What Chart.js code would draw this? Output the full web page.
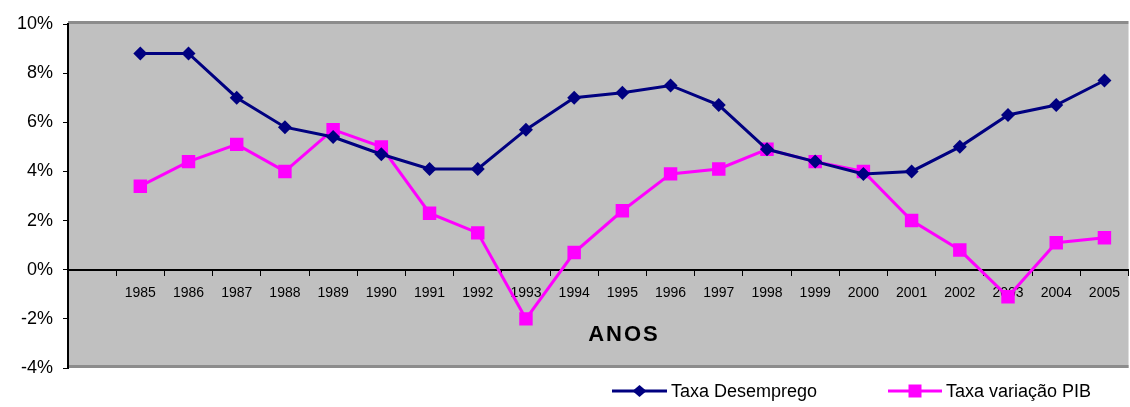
<!DOCTYPE html>
<html>
<head>
<meta charset="utf-8">
<script src="https://cdn.jsdelivr.net/npm/chart.js@4"></script>
<style>
  html, body { margin: 0; padding: 0; background: #fff; }
  #wrap { width: 1130px; height: 407px; position: relative; }
</style>
</head>
<body>
<div id="wrap"><canvas id="c" width="1130" height="407"></canvas></div>
<script>
const years = ['1985','1986','1987','1988','1989','1990','1991','1992','1993','1994','1995',
               '1996','1997','1998','1999','2000','2001','2002','2003','2004','2005'];
const taxaDesemprego = [8.8, 8.8, 7.0, 5.8, 5.4, 4.7, 4.1, 4.1, 5.7, 7.0, 7.2,
                        7.5, 6.7, 4.9, 4.4, 3.9, 4.0, 5.0, 6.3, 6.7, 7.7];
const taxaVariacaoPIB = [3.4, 4.4, 5.1, 4.0, 5.7, 5.0, 2.3, 1.5, -2.0, 0.7, 2.4,
                         3.9, 4.1, 4.9, 4.4, 4.0, 2.0, 0.8, -1.1, 1.1, 1.3];
const yTicks = [-4, -2, 0, 2, 4, 6, 8, 10];
const seriesNames = ['Taxa Desemprego', 'Taxa variação PIB'];
const xTitle = 'ANOS';

const NAVY = '#000080', MAGENTA = '#FF00FF';
const FONT = '"Liberation Sans", Arial, sans-serif';

// leading empty category (the reference leaves one empty slot before 1985)
const labels = [''].concat(years);

const bgPlugin = {
  id: 'bg',
  beforeDraw(chart) {
    const {ctx, chartArea: a} = chart;
    ctx.save();
    ctx.fillStyle = '#C0C0C0';
    ctx.fillRect(a.left, a.top, a.right - a.left, a.bottom - a.top);
    ctx.fillStyle = '#8C8C8C';
    ctx.fillRect(a.left, a.top - 3, a.right - a.left, 3);
    ctx.fillRect(a.left, a.bottom - 3, a.right - a.left, 3);
    ctx.restore();
  }
};

const extrasPlugin = {
  id: 'extras',
  afterDraw(chart) {
    const {ctx} = chart;
    const ys = chart.scales.y;
    ctx.save();
    // axis title
    ctx.font = 'bold 22px ' + FONT;
    ctx.fillStyle = '#000';
    ctx.textAlign = 'center';
    ctx.textBaseline = 'middle';
    if ('letterSpacing' in ctx) ctx.letterSpacing = '2px';
    ctx.fillText(xTitle, 624, ys.getPixelForValue(-2.66));
    if ('letterSpacing' in ctx) ctx.letterSpacing = '0px';
    // legend
    const ly = 391;
    const items = [
      {x0: 612, x1: 667, color: NAVY, shape: 'diamond', text: seriesNames[0]},
      {x0: 888, x1: 942, color: MAGENTA, shape: 'square', text: seriesNames[1]}
    ];
    items.forEach(it => {
      ctx.strokeStyle = it.color;
      ctx.lineWidth = 3;
      ctx.beginPath();
      ctx.moveTo(it.x0, ly); ctx.lineTo(it.x1, ly); ctx.stroke();
      const cx = (it.x0 + it.x1) / 2;
      ctx.fillStyle = it.color;
      ctx.beginPath();
      if (it.shape === 'diamond') {
        ctx.moveTo(cx - 7, ly); ctx.lineTo(cx, ly - 6); ctx.lineTo(cx + 7, ly); ctx.lineTo(cx, ly + 6);
        ctx.closePath();
      } else {
        ctx.rect(cx - 6.5, ly - 6.5, 13, 13);
      }
      ctx.fill();
      ctx.fillStyle = '#000';
      ctx.font = '18px ' + FONT;
      ctx.textAlign = 'left';
      ctx.textBaseline = 'middle';
      ctx.fillText(it.text, it.x1 + 4, ly + 1);
    });
    ctx.restore();
  }
};

new Chart(document.getElementById('c'), {
  type: 'line',
  data: {
    labels: labels,
    datasets: [
      {
        label: seriesNames[0],
        data: [null].concat(taxaDesemprego),
        borderColor: NAVY,
        backgroundColor: NAVY,
        borderWidth: 3,
        pointStyle: 'rectRot',
        pointRadius: 7,
        pointHoverRadius: 7,
        pointBorderWidth: 0,
        tension: 0
      },
      {
        label: seriesNames[1],
        data: [null].concat(taxaVariacaoPIB),
        borderColor: MAGENTA,
        backgroundColor: MAGENTA,
        borderWidth: 3,
        pointStyle: 'rect',
        pointRadius: 9.5,
        pointHoverRadius: 9.5,
        pointBorderWidth: 0,
        tension: 0
      }
    ]
  },
  options: {
    responsive: false,
    animation: false,
    events: [],
    layout: { autoPadding: false, padding: { top: 24, bottom: 39, right: 0, left: 0 } },
    plugins: { legend: { display: false }, tooltip: { enabled: false } },
    scales: {
      x: {
        type: 'category',
        position: { y: 0 },
        offset: true,
        afterFit(scale) { scale.height = 0; },
        grid: { drawOnChartArea: false, drawTicks: true, tickLength: 5, offset: true, color: '#000', lineWidth: 1 },
        border: { display: true, color: '#000', width: 2 },
        ticks: {
          autoSkip: false, maxRotation: 0, padding: 10,
          color: '#000', font: { family: FONT, size: 14 }
        }
      },
      y: {
        min: -4, max: 10,
        afterFit(scale) { scale.width = 68; },
        afterBuildTicks(scale) { scale.ticks = yTicks.map(v => ({value: v})); },
        grid: { drawOnChartArea: false, drawTicks: true, tickLength: 5, color: '#000' },
        border: { display: true, color: '#000', width: 2 },
        ticks: {
          padding: 10, color: '#000',
          font: { family: FONT, size: 18 },
          callback: v => v + '%'
        }
      }
    }
  },
  plugins: [bgPlugin, extrasPlugin]
});
</script>
</body>
</html>
